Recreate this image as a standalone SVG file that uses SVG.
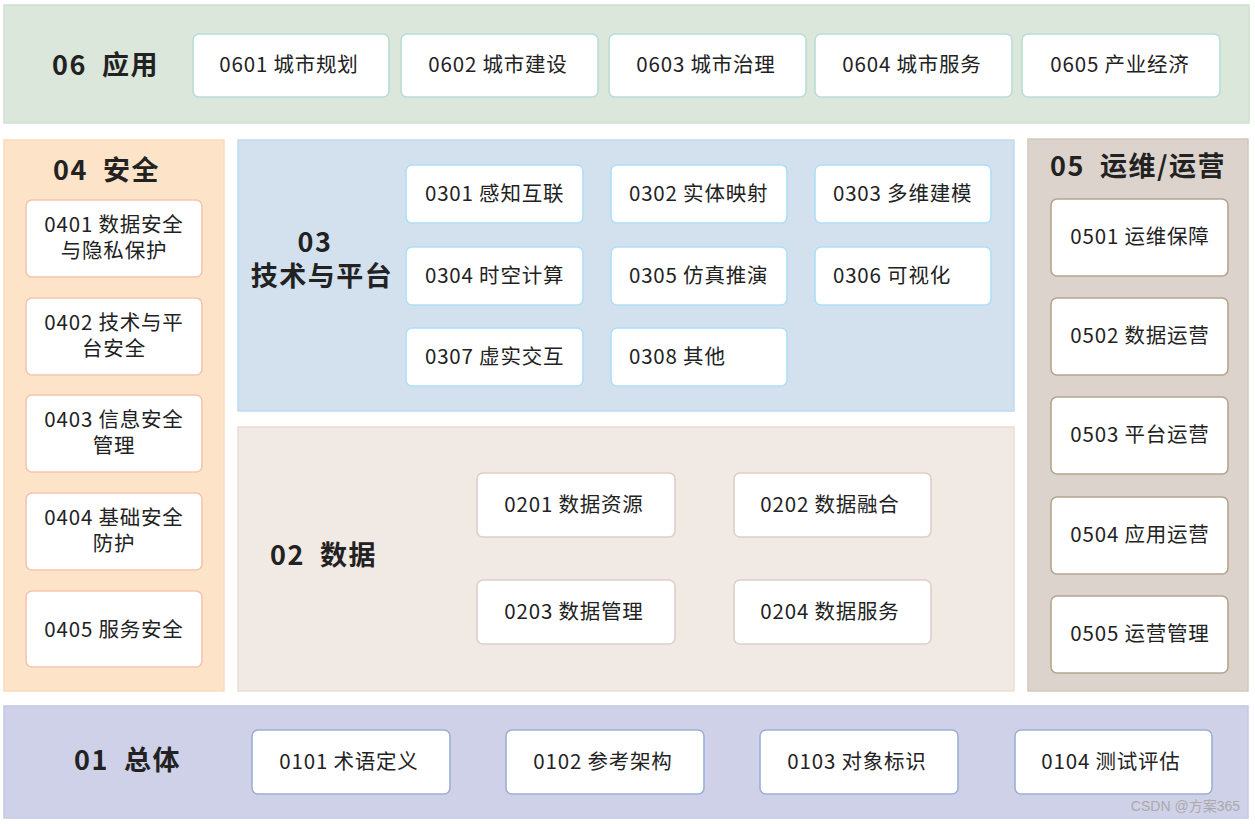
<svg xmlns="http://www.w3.org/2000/svg" width="1255" height="824" viewBox="0 0 1255 824">
<style>
text{font-family:"Noto Sans CJK SC","Noto Sans",sans-serif;fill:#222;}
.h{font-size:27px;font-weight:bold;white-space:pre;letter-spacing:1.5px;}
.t{font-size:20.5px;letter-spacing:0.8px;}
.c{text-anchor:middle;}
.b{fill:#fff;stroke-width:1.6;}
.g6{stroke:#b8ddd6;}
.g4{stroke:#f7c3ae;}
.g3{stroke:#ace0f7;}
.g2{stroke:#dcd0c8;}
.g5{stroke:#b3a58e;}
.g1{stroke:#9db0d2;}
</style>
<rect width="1255" height="824" fill="#fff"/>
<g id="panel06">
<rect x="4" y="5" width="1245" height="118" fill="#dce7dc" stroke="#d0e0cf" stroke-width="1.5"/>
<text class="h" x="52" y="75">06  应用</text>
</g>
<g id="n0601"><rect class="b g6" x="193" y="34" width="196" height="63" rx="6"/><text class="t c" x="289" y="72">0601 城市规划</text></g>
<g id="n0602"><rect class="b g6" x="401" y="34" width="197" height="63" rx="6"/><text class="t c" x="498" y="72">0602 城市建设</text></g>
<g id="n0603"><rect class="b g6" x="609" y="34" width="197" height="63" rx="6"/><text class="t c" x="706" y="72">0603 城市治理</text></g>
<g id="n0604"><rect class="b g6" x="815" y="34" width="197" height="63" rx="6"/><text class="t c" x="912" y="72">0604 城市服务</text></g>
<g id="n0605"><rect class="b g6" x="1022" y="34" width="198" height="63" rx="6"/><text class="t c" x="1120" y="72">0605 产业经济</text></g>

<g id="panel04">
<rect x="4" y="140" width="220" height="551" fill="#fde4c8" stroke="#fbdcbb" stroke-width="1.5"/>
<text class="h" x="53" y="180">04  安全</text>
</g>
<g id="n0401"><rect class="b g4" x="26" y="200" width="176" height="77" rx="6"/><text class="t c" x="114" y="232">0401 数据安全</text><text class="t c" x="114" y="258">与隐私保护</text></g>
<g id="n0402"><rect class="b g4" x="26" y="298" width="176" height="77" rx="6"/><text class="t c" x="114" y="330">0402 技术与平</text><text class="t c" x="114" y="356">台安全</text></g>
<g id="n0403"><rect class="b g4" x="26" y="395" width="176" height="77" rx="6"/><text class="t c" x="114" y="427">0403 信息安全</text><text class="t c" x="114" y="453">管理</text></g>
<g id="n0404"><rect class="b g4" x="26" y="493" width="176" height="77" rx="6"/><text class="t c" x="114" y="525">0404 基础安全</text><text class="t c" x="114" y="551">防护</text></g>
<g id="n0405"><rect class="b g4" x="26" y="591" width="176" height="76" rx="6"/><text class="t c" x="114" y="637">0405 服务安全</text></g>

<g id="panel03">
<rect x="238" y="140" width="776" height="271" fill="#d3e1ef" stroke="#bfdaf0" stroke-width="1.5"/>
<text class="h c" x="315" y="252">03</text>
<text class="h c" x="322" y="286">技术与平台</text>
</g>
<g id="n0301"><rect class="b g3" x="406" y="165" width="177" height="58" rx="6"/><text class="t" x="425" y="201">0301 感知互联</text></g>
<g id="n0302"><rect class="b g3" x="611" y="165" width="176" height="58" rx="6"/><text class="t" x="629" y="201">0302 实体映射</text></g>
<g id="n0303"><rect class="b g3" x="815" y="165" width="176" height="58" rx="6"/><text class="t" x="833" y="201">0303 多维建模</text></g>
<g id="n0304"><rect class="b g3" x="406" y="247" width="177" height="58" rx="6"/><text class="t" x="425" y="283">0304 时空计算</text></g>
<g id="n0305"><rect class="b g3" x="611" y="247" width="176" height="58" rx="6"/><text class="t" x="629" y="283">0305 仿真推演</text></g>
<g id="n0306"><rect class="b g3" x="815" y="247" width="176" height="58" rx="6"/><text class="t" x="833" y="283">0306 可视化</text></g>
<g id="n0307"><rect class="b g3" x="406" y="328" width="177" height="58" rx="6"/><text class="t" x="425" y="364">0307 虚实交互</text></g>
<g id="n0308"><rect class="b g3" x="611" y="328" width="176" height="58" rx="6"/><text class="t" x="629" y="364">0308 其他</text></g>

<g id="panel02">
<rect x="238" y="427" width="776" height="264" fill="#f1e9e4" stroke="#ecdcd3" stroke-width="1.5"/>
<text class="h" x="270" y="565">02  数据</text>
</g>
<g id="n0201"><rect class="b g2" x="477" y="473" width="198" height="64" rx="6"/><text class="t c" x="574" y="512">0201 数据资源</text></g>
<g id="n0202"><rect class="b g2" x="734" y="473" width="197" height="64" rx="6"/><text class="t c" x="830" y="512">0202 数据融合</text></g>
<g id="n0203"><rect class="b g2" x="477" y="580" width="198" height="64" rx="6"/><text class="t c" x="574" y="619">0203 数据管理</text></g>
<g id="n0204"><rect class="b g2" x="734" y="580" width="197" height="64" rx="6"/><text class="t c" x="830" y="619">0204 数据服务</text></g>

<g id="panel05">
<rect x="1028" y="139" width="220" height="552" fill="#dcd3cc" stroke="#d4c7bb" stroke-width="1.5"/>
<text class="h" x="1050" y="176">05  运维/运营</text>
</g>
<g id="n0501"><rect class="b g5" x="1051" y="199" width="177" height="77" rx="6"/><text class="t c" x="1140" y="244">0501 运维保障</text></g>
<g id="n0502"><rect class="b g5" x="1051" y="298" width="177" height="77" rx="6"/><text class="t c" x="1140" y="343">0502 数据运营</text></g>
<g id="n0503"><rect class="b g5" x="1051" y="397" width="177" height="77" rx="6"/><text class="t c" x="1140" y="442">0503 平台运营</text></g>
<g id="n0504"><rect class="b g5" x="1051" y="497" width="177" height="77" rx="6"/><text class="t c" x="1140" y="542">0504 应用运营</text></g>
<g id="n0505"><rect class="b g5" x="1051" y="596" width="177" height="77" rx="6"/><text class="t c" x="1140" y="641">0505 运营管理</text></g>

<g id="panel01">
<rect x="4" y="706" width="1244" height="112" fill="#cfd1e8" stroke="#c4c8e2" stroke-width="1.5"/>
<text class="h" x="74" y="770">01  总体</text>
</g>
<g id="n0101"><rect class="b g1" x="252" y="730" width="198" height="64" rx="6"/><text class="t c" x="349" y="769">0101 术语定义</text></g>
<g id="n0102"><rect class="b g1" x="506" y="730" width="198" height="64" rx="6"/><text class="t c" x="603" y="769">0102 参考架构</text></g>
<g id="n0103"><rect class="b g1" x="760" y="730" width="198" height="64" rx="6"/><text class="t c" x="857" y="769">0103 对象标识</text></g>
<g id="n0104"><rect class="b g1" x="1015" y="730" width="197" height="64" rx="6"/><text class="t c" x="1111" y="769">0104 测试评估</text></g>

<g id="connectors"></g>
<text x="1240" y="811" text-anchor="end" style="font-size:14px;fill:#aaa;font-family:'Liberation Sans','Noto Sans CJK SC',sans-serif">CSDN @方案365</text>
</svg>
